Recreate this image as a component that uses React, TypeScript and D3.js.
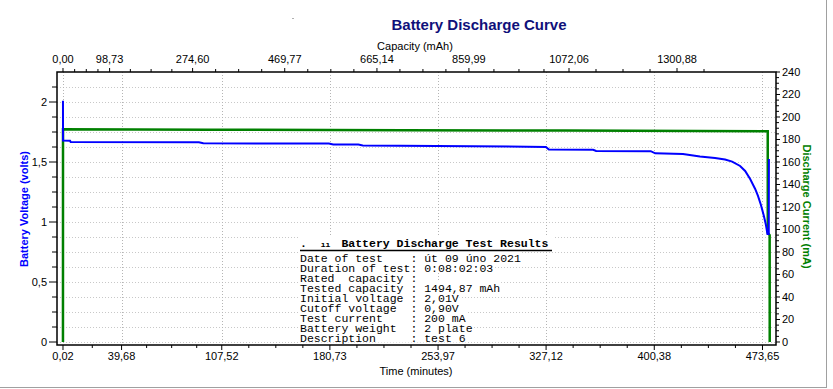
import * as d3 from 'd3'

// axis tick labels as printed on the chart
const timeTicks = [0.02, 39.68, 107.52, 180.73, 253.97, 327.12, 400.38, 473.65]
const capacityTicks = [0, 98.73, 274.6, 469.77, 665.14, 859.99, 1072.06, 1300.88]
const voltageTicks = [0, 0.5, 1, 1.5, 2]
const currentTicks = [0, 20, 40, 60, 80, 100, 120, 140, 160, 180, 200, 220, 240]

// [time (min), voltage (V)]
const voltageData: [number, number][] = [
  [0, 2.01], [0.05, 1.678], [4.8, 1.677], [5.2, 1.667], [92, 1.665], [95, 1.656],
  [180, 1.654], [183, 1.646], [200, 1.645], [203, 1.6375], [327, 1.626], [329, 1.604],
  [359, 1.602], [361, 1.592], [398, 1.59], [401, 1.572], [419.8, 1.567], [431.3, 1.546],
  [441.5, 1.533], [448.3, 1.521], [453.1, 1.503], [458.5, 1.467], [461.9, 1.425],
  [465.3, 1.358], [468.7, 1.275], [470.6, 1.217], [472.6, 1.142], [474.6, 1.05],
  [476.0, 0.975], [477.0, 0.9], [477.9, 0.9], [478.0, 1.525],
]

// [time (min), current (mA)]
const currentData: [number, number][] = [
  [0, 0], [0.03, 189], [100, 188.7], [230, 188.3], [340, 188], [430, 187.6],
  [477.2, 187.4], [477.25, 97], [478.5, 95], [478.55, 0],
]

const resultsPrefix = ['.', 'ıı']
const resultsTitle = 'Battery Discharge Test Results'
const resultsLines = [
  'Date of test    : út 09 úno 2021',
  'Duration of test: 0:08:02:03',
  'Rated  capacity :',
  'Tested capacity : 1494,87 mAh',
  'Initial voltage : 2,01V',
  'Cutoff voltage  : 0,90V',
  'Test current    : 200 mA',
  'Battery weight  : 2 plate',
  'Description     : test 6',
]

const comma = (s: string) => s.replace('.', ',')

function quarterMinors(ticks: number[], firstHalf: boolean, extraAfter: boolean) {
  const out: number[] = []
  for (let i = 0; i < ticks.length - 1; i++) {
    const a = ticks[i], b = ticks[i + 1]
    const n = i === 0 && firstHalf ? 2 : 4
    for (let k = 1; k < n; k++) out.push(a + ((b - a) * k) / n)
  }
  if (extraAfter) {
    const a = ticks[ticks.length - 2], b = ticks[ticks.length - 1]
    out.push(b + (b - a) / 4)
  }
  return out
}

export default function App() {
  const W = 833, H = 389
  const left = 57, right = 776, top = 72, bottom = 345
  const sans = 'Liberation Sans, Arial, sans-serif'
  const mono = 'Liberation Mono, Courier New, monospace'

  const x = d3.scaleLinear().domain([-4.04, 482.8]).range([left, right])
  const xc = d3.scaleLinear().domain([-12.7, 1510.6]).range([left, right])
  const yv = d3.scaleLinear().domain([-0.025, 2.25]).range([bottom, top])
  const yc = d3.scaleLinear().domain([-2.67, 240]).range([bottom, top])

  const vLine = d3.line<[number, number]>().x(d => x(d[0])).y(d => yv(d[1]))
  const cLine = d3.line<[number, number]>().x(d => x(d[0])).y(d => yc(d[1]))

  const timeMinors = quarterMinors(timeTicks, true, false)
  const capMinors = quarterMinors(capacityTicks, false, true)
  const vMinors = d3.range(0, 2.25, 0.125)
  const cMinors = d3.range(0, 241, 5).filter(v => v % 20 !== 0)

  const cw = 6.9
  const bx = 300

  return (
    <svg width={W} height={H} style={{ position: 'absolute', left: 0, top: 0, background: '#fff' }}>
      <rect x={0} y={0} width={W} height={H} fill="#fff" />
      <rect x={292} y={18} width={2} height={1} fill="#b0b0b0" />

      {/* title */}
      <text x={479} y={30} textAnchor="middle" fontFamily={sans} fontWeight="bold" fontSize={15} fill="#10107a">
        Battery Discharge Curve
      </text>
      <text x={415} y={49.5} textAnchor="middle" fontFamily={sans} fontSize={11} fill="#000">
        Capacity (mAh)
      </text>

      {/* grid */}
      {vMinors.map(v => (
        <line key={'hg' + v} x1={left} x2={right} y1={Math.round(yv(v)) + 0.5} y2={Math.round(yv(v)) + 0.5}
          stroke="#c8c8c8" strokeDasharray="1 2" />
      ))}
      {timeTicks.map(t => (
        <line key={'vg' + t} x1={Math.round(x(t)) + 0.5} x2={Math.round(x(t)) + 0.5} y1={top} y2={bottom}
          stroke="#b4b4b4" strokeDasharray="1 2" />
      ))}

      {/* series */}
      <path d={cLine(currentData) ?? ''} fill="none" stroke="#008000" strokeWidth={2.5} />
      <path d={vLine(voltageData) ?? ''} fill="none" stroke="#0000ff" strokeWidth={2} />

      {/* results box */}
      <g fontFamily={mono} fontSize={11.5} fill="#000">
        <rect x={bx - 1} y={237} width={254} height={13} fill="#fff" />
        {resultsLines.map((s, i) => (
          <rect key={'bg' + i} x={bx - 1} y={252 + i * 10} width={s.length * cw + 2} height={10.5} fill="#fff" />
        ))}
        <text x={bx} y={246.5} fontWeight="bold">{resultsPrefix[0]}</text>
        <text x={bx + 3 * cw} y={246.5} fontSize={8} fontWeight="bold">{resultsPrefix[1]}</text>
        <text x={bx + 6 * cw} y={246.5} fontWeight="bold">{resultsTitle}</text>
        <line x1={bx} x2={552} y1={250.5} y2={250.5} stroke="#000" strokeWidth={1.5} />
        {resultsLines.map((s, i) => (
          <text key={s} x={bx} y={261.5 + i * 10} style={{ whiteSpace: 'pre' }}>{s}</text>
        ))}
      </g>

      {/* frame */}
      <rect x={left} y={top} width={right - left} height={bottom - top} fill="none" stroke="#000" strokeWidth={1.5} />

      {/* bottom axis */}
      {timeTicks.map(t => (
        <g key={'bt' + t}>
          <line x1={x(t)} x2={x(t)} y1={bottom} y2={bottom + 5} stroke="#000" />
          <text x={x(t)} y={359.5} textAnchor="middle" fontFamily={sans} fontSize={11} fill="#000">
            {comma(t.toFixed(2))}
          </text>
        </g>
      ))}
      {timeMinors.map(t => (
        <line key={'bm' + t} x1={x(t)} x2={x(t)} y1={bottom} y2={bottom + 3} stroke="#000" />
      ))}
      <text x={416} y={374.5} textAnchor="middle" fontFamily={sans} fontSize={11} fill="#000">Time (minutes)</text>

      {/* top axis */}
      {capacityTicks.map(c => (
        <g key={'tt' + c}>
          <line x1={xc(c)} x2={xc(c)} y1={top} y2={top - 4} stroke="#000" />
          <text x={xc(c)} y={63} textAnchor="middle" fontFamily={sans} fontSize={11} fill="#000">
            {comma(c.toFixed(2))}
          </text>
        </g>
      ))}
      {capMinors.map(c => (
        <line key={'tm' + c} x1={xc(c)} x2={xc(c)} y1={top} y2={top - 3} stroke="#000" />
      ))}

      {/* left axis */}
      {voltageTicks.map(v => (
        <g key={'lt' + v}>
          <line x1={left} x2={left - 8} y1={yv(v)} y2={yv(v)} stroke="#000" />
          <text x={47} y={yv(v) + 4} textAnchor="end" fontFamily={sans} fontSize={11} fill="#000">
            {comma(String(v))}
          </text>
        </g>
      ))}
      {vMinors.filter(v => !voltageTicks.includes(v)).map(v => (
        <line key={'lm' + v} x1={left} x2={left - 5} y1={yv(v)} y2={yv(v)} stroke="#000" />
      ))}
      <text transform="translate(28,209) rotate(-90)" textAnchor="middle" fontFamily={sans} fontSize={11}
        fontWeight="bold" fill="#0000ff">Battery Voltage (volts)</text>

      {/* right axis */}
      {currentTicks.map(c => (
        <g key={'rt' + c}>
          <line x1={right} x2={right + 4} y1={yc(c)} y2={yc(c)} stroke="#000" />
          <text x={782} y={yc(c) + 4} fontFamily={sans} fontSize={11} fill="#000">{c}</text>
        </g>
      ))}
      {cMinors.map(c => (
        <line key={'rm' + c} x1={right} x2={right + 3} y1={yc(c)} y2={yc(c)} stroke="#000" />
      ))}
      <text transform="translate(803,206.5) rotate(90)" textAnchor="middle" fontFamily={sans} fontSize={11}
        fontWeight="bold" fill="#008000">Discharge Current (mA)</text>

      {/* window border */}
      <line x1={826.5} x2={826.5} y1={0} y2={388} stroke="#a0a0a0" />
      <line x1={0} x2={827} y1={387.5} y2={387.5} stroke="#a0a0a0" />
    </svg>
  )
}
